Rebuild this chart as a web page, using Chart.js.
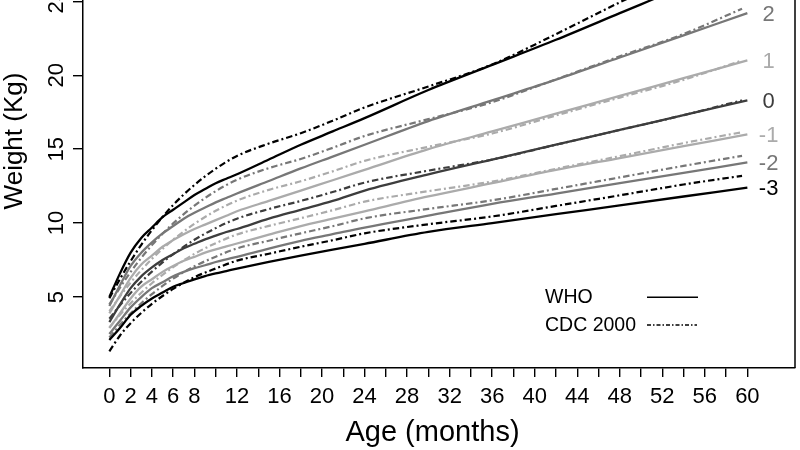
<!DOCTYPE html>
<html><head><meta charset="utf-8">
<script src="https://cdn.jsdelivr.net/npm/chart.js@4.4.1/dist/chart.umd.min.js"></script>
<style>
html,body{margin:0;padding:0;background:#fff;overflow:hidden;width:800px;height:450px;}
#wrap{position:absolute;left:0;top:-80px;width:800px;height:530px;}
</style></head><body>
<div id="wrap"><canvas id="c" width="800" height="530"></canvas></div>
<script>
// ---- data ----
const zLabels = ['-3','-2','-1','0','1','2','3'];
const zColors = ['#000000','#777777','#ababab','#3d3d3d','#ababab','#777777','#000000'];

const whoMonths = [0,1,2,3,4,5,6,7,8,9,10,11,12,15,18,21,24,30,36,42,48,54,60];
const whoM3 = [2.1,2.9,3.8,4.4,4.9,5.3,5.7,5.95,6.2,6.42,6.6,6.76,6.92,7.37,7.8,8.2,8.6,9.4,10.0,10.6,11.2,11.8,12.4];
const whoM2 = [2.5,3.4,4.3,5.0,5.6,6.0,6.4,6.7,6.95,7.15,7.37,7.55,7.72,8.28,8.8,9.25,9.7,10.5,11.3,12.0,12.7,13.4,14.1];
const whoM1 = [2.9,3.9,4.9,5.7,6.2,6.7,7.1,7.45,7.72,8.0,8.22,8.42,8.62,9.22,9.8,10.3,10.8,11.8,12.7,13.6,14.4,15.2,16.0];
const who0  = [3.3,4.5,5.6,6.4,7.0,7.5,7.9,8.3,8.6,8.9,9.15,9.4,9.6,10.3,10.9,11.5,12.2,13.3,14.3,15.3,16.3,17.3,18.3];
const whoP1 = [3.9,5.1,6.3,7.2,7.8,8.4,8.85,9.25,9.6,9.9,10.2,10.5,10.8,11.5,12.2,12.9,13.6,15.0,16.2,17.4,18.6,19.8,21.0];
const whoP2 = [4.4,5.8,7.1,8.0,8.7,9.3,9.8,10.3,10.7,11.05,11.4,11.7,12.0,12.85,13.7,14.5,15.3,16.9,18.3,19.7,21.2,22.7,24.2];
const whoP3 = [5.0,6.6,8.0,9.0,9.7,10.4,10.9,11.4,11.9,12.3,12.7,13.0,13.3,14.3,15.3,16.2,17.1,19.0,20.7,22.4,24.2,26.0,27.9];

const cdcMonths = [0,1,2,3,4,5,6,8,10,12,15,18,21,24,30,36,42,48,54,59.5];
const cdcM3 = [1.33,2.40,3.23,3.93,4.54,5.07,5.55,6.34,6.93,7.46,7.93,8.40,8.84,9.31,9.92,10.45,11.16,11.88,12.61,13.20];
const cdcM2 = [2.26,3.12,3.90,4.58,5.20,5.75,6.25,7.08,7.73,8.29,8.81,9.31,9.79,10.32,10.96,11.54,12.31,13.09,13.87,14.55];
const cdcM1 = [2.95,3.80,4.58,5.29,5.93,6.50,7.02,7.92,8.64,9.23,9.81,10.33,10.87,11.45,12.16,12.81,13.67,14.53,15.41,16.15];
const cdc0  = [3.53,4.44,5.28,6.03,6.72,7.34,7.90,8.87,9.66,10.30,10.95,11.50,12.10,12.74,13.55,14.30,15.30,16.30,17.30,18.30];
const cdcP1 = [4.04,5.05,5.98,6.82,7.58,8.26,8.88,9.95,10.83,11.52,12.25,12.83,13.50,14.21,15.16,16.06,17.28,18.49,19.69,21.00];
const cdcP2 = [4.50,5.64,6.70,7.65,8.51,9.28,9.98,11.18,12.16,12.93,13.72,14.34,15.09,15.89,17.03,18.18,19.72,21.28,22.79,24.50];
const cdcP3 = [4.92,6.22,7.43,8.53,9.52,10.41,11.23,12.58,13.68,14.54,15.38,16.08,16.92,17.82,19.24,20.73,22.78,24.93,26.97,29.30];

const xTicks = [0,2,4,6,8,10,12,14,16,18,20,22,24,26,28,30,32,34,36,38,40,42,44,46,48,50,52,54,56,58,60];
const xTickLabels = [0,2,4,6,8,12,16,20,24,28,32,36,40,44,48,52,56,60];
const yTicks = [5,10,15,20,25];
const legendLabels = ['WHO','CDC 2000'];
const xTitle = 'Age (months)';
const yTitle = 'Weight (Kg)';

// ---- build ----
const FONT = 'Liberation Sans, Arial, sans-serif';
const OFFSET_Y = 80; // canvas is shifted up; plot box top lies above the picture
const whoSeries = [whoM3,whoM2,whoM1,who0,whoP1,whoP2,whoP3];
const cdcSeries = [cdcM3,cdcM2,cdcM1,cdc0,cdcP1,cdcP2,cdcP3];
const toXY = (months, vals) => months.map((m,i)=>({x:m,y:vals[i]}));
const CDC_DASH = [6.5,3,2,3];

const datasets = [];
whoSeries.forEach((s,i)=>{
  datasets.push({label:'WHO '+zLabels[i], data:toXY(whoMonths,s), borderColor:zColors[i], borderWidth:2.3,
    pointRadius:0, cubicInterpolationMode:'monotone', fill:false});
});
cdcSeries.forEach((s,i)=>{
  datasets.push({label:'CDC '+zLabels[i], data:toXY(cdcMonths,s), borderColor:zColors[i], borderWidth:2.2,
    borderDash:CDC_DASH, borderCapStyle:'butt', pointRadius:0, cubicInterpolationMode:'monotone', fill:false});
});

const decor = {
  id:'decor',
  afterDraw(chart){
    const {ctx, chartArea:a, scales:{x,y}} = chart;
    ctx.save();
    ctx.strokeStyle='#000'; ctx.lineWidth=1.5;
    ctx.beginPath(); ctx.moveTo(a.right, a.top); ctx.lineTo(a.right, a.bottom); ctx.stroke();
    ctx.beginPath(); ctx.moveTo(a.left, a.top); ctx.lineTo(a.right, a.top); ctx.stroke();
    // y tick labels (rotated, R style)
    ctx.fillStyle='#000'; ctx.font='22px '+FONT; ctx.textAlign='center'; ctx.textBaseline='middle';
    yTicks.forEach(v=>{
      ctx.save(); ctx.translate(56.5, y.getPixelForValue(v)); ctx.rotate(-Math.PI/2);
      ctx.fillText(String(v),0,0); ctx.restore();
    });
    // axis titles
    ctx.font='29px '+FONT;
    ctx.fillText(xTitle, 432.5, 433+OFFSET_Y);
    ctx.font='26px '+FONT;
    ctx.save(); ctx.translate(15, (a.top+a.bottom)/2 - 3); ctx.rotate(-Math.PI/2);
    ctx.fillText(yTitle,0,0); ctx.restore();
    // z labels at the right end of the WHO curves
    ctx.font='22px '+FONT;
    whoSeries.forEach((s,i)=>{
      ctx.fillStyle = zColors[i];
      ctx.fillText(zLabels[i], x.getPixelForValue(62), y.getPixelForValue(s[s.length-1])+1.5);
    });
    // legend
    ctx.fillStyle='#000'; ctx.font='19.5px '+FONT; ctx.textAlign='left';
    const ly = [298+OFFSET_Y, 325.5+OFFSET_Y];
    ctx.fillText(legendLabels[0], 545, ly[0]);
    ctx.fillText(legendLabels[1], 545, ly[1]);
    ctx.strokeStyle='#000'; ctx.lineWidth=1.4;
    ctx.beginPath(); ctx.moveTo(647, ly[0]-0.7); ctx.lineTo(698, ly[0]-0.7); ctx.stroke();
    ctx.setLineDash([4,2,1.5,2]);
    ctx.beginPath(); ctx.moveTo(647, ly[1]-0.5); ctx.lineTo(697, ly[1]-0.5); ctx.stroke();
    ctx.restore();
  }
};

new Chart(document.getElementById('c'), {
  type:'line',
  data:{datasets},
  plugins:[decor],
  options:{
    responsive:false, animation:false, devicePixelRatio:1,
    layout:{padding:{top:0,right:5,bottom:0,left:0}},
    plugins:{legend:{display:false}, tooltip:{enabled:false}},
    scales:{
      x:{type:'linear', min:-2.48, max:64.48,
        afterBuildTicks:s=>{s.ticks = xTicks.map(v=>({value:v}));},
        afterFit:s=>{s.height = 82;},
        ticks:{autoSkip:false, maxRotation:0, minRotation:0, color:'#000', padding:6.5,
          font:{family:FONT, size:22},
          callback:v=> xTickLabels.includes(v) ? String(v) : ''},
        grid:{display:true, drawOnChartArea:false, drawTicks:true, tickLength:9, color:'#000', lineWidth:1.4},
        border:{display:true, color:'#000', width:1.5},
        title:{display:false}
      },
      y:{type:'linear', min:0.2, max:30.5,
        afterBuildTicks:s=>{s.ticks = yTicks.map(v=>({value:v}));},
        afterFit:s=>{s.width = 83;},
        ticks:{display:false},
        grid:{display:true, drawOnChartArea:false, drawTicks:true, tickLength:10, color:'#000', lineWidth:1.4},
        border:{display:true, color:'#000', width:1.5},
        title:{display:false}
      }
    }
  }
});
</script>
</body></html>
